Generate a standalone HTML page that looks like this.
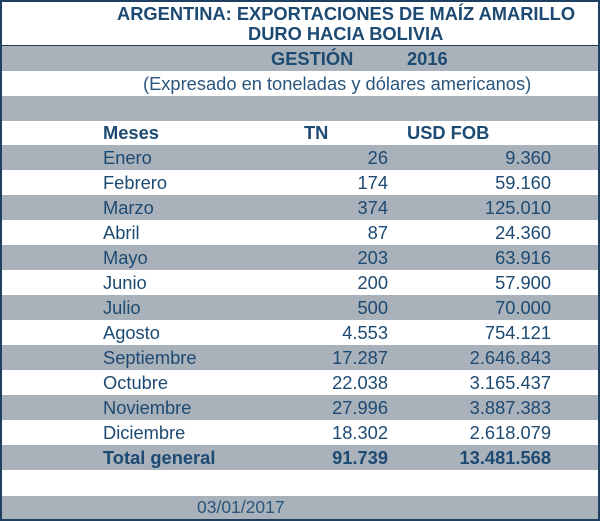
<!DOCTYPE html>
<html><head><meta charset="utf-8"><style>
body{margin:0;width:600px;height:521px;overflow:hidden;background:#fff;font-family:"Liberation Sans",sans-serif;color:#1d4a72}
.f{position:absolute;left:0;top:0;width:596px;height:517px;border:2px solid #1f3f60}
.r{position:absolute;left:0;width:596px;height:25px}
.g{background:#a9b1ba}
.t{position:absolute;white-space:nowrap;font-size:18.3px;line-height:25px}
.b{font-weight:bold}
.rt{text-align:right}
</style></head><body><div class="f">
<div class="r" style="top:0;height:43px;border-bottom:1px solid #1f3f60"></div>
<div class="t b" style="left:115px;top:1px;line-height:22px">ARGENTINA: EXPORTACIONES DE MAÍZ AMARILLO</div>
<div class="t b" style="left:246px;top:21px;line-height:22px">DURO HACIA BOLIVIA</div>
<div class="r g" style="top:44px"></div>
<div class="t b" style="left:269px;top:44px">GESTIÓN</div>
<div class="t b" style="left:405px;top:44px">2016</div>
<div class="t" style="left:141px;top:69px;color:#2a557c">(Expresado en toneladas y dólares americanos)</div>
<div class="r g" style="top:94px"></div>
<div class="t b" style="left:101px;top:118px">Meses</div>
<div class="t b" style="left:302px;top:118px">TN</div>
<div class="t b" style="left:405px;top:118px">USD FOB</div>
<div id="rows"></div>
<div class="r g" style="top:494px;height:23px"></div>
<div class="t" style="left:195px;top:493px;font-size:17.5px;color:#2a557c">03/01/2017</div>
</div>
<script>
var d=[["Enero","26","9.360"],["Febrero","174","59.160"],["Marzo","374","125.010"],["Abril","87","24.360"],["Mayo","203","63.916"],["Junio","200","57.900"],["Julio","500","70.000"],["Agosto","4.553","754.121"],["Septiembre","17.287","2.646.843"],["Octubre","22.038","3.165.437"],["Noviembre","27.996","3.887.383"],["Diciembre","18.302","2.618.079"],["Total general","91.739","13.481.568"]];
var h="";d.forEach(function(x,i){var y=143+i*25;var b=i==12?" b":"";
if(i%2==0)h+='<div class="r g" style="top:'+y+'px"></div>';
h+='<div class="t'+b+'" style="left:101px;top:'+y+'px">'+x[0]+'</div>';
h+='<div class="t rt'+b+'" style="left:286px;width:100px;top:'+y+'px">'+x[1]+'</div>';
h+='<div class="t rt'+b+'" style="left:409px;width:140px;top:'+y+'px">'+x[2]+'</div>';});
document.getElementById("rows").outerHTML=h;
</script>
</body></html>
